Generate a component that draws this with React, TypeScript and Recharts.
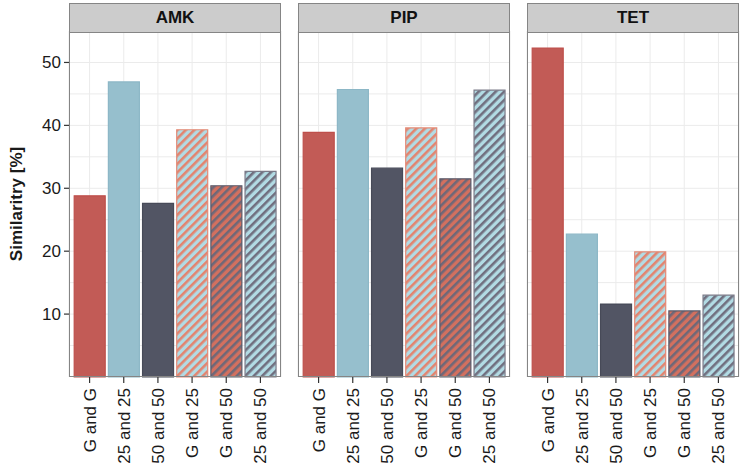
import { BarChart, Bar, XAxis, YAxis, CartesianGrid, Cell } from 'recharts'

// similarity per pair of groups, one facet per antibiotic
const categories = ['G and G', '25 and 25', '50 and 50', 'G and 25', 'G and 50', '25 and 50']
const amkValues = [28.8, 46.9, 27.6, 39.3, 30.4, 32.7]
const pipValues = [38.9, 45.7, 33.2, 39.6, 31.5, 45.6]
const tetValues = [52.3, 22.7, 11.6, 19.9, 10.5, 13.0]
const yTicks = [10, 20, 30, 40, 50]
const gridLines = [5, 10, 15, 20, 25, 30, 35, 40, 45, 50]

const FONT = '"Liberation Sans", Arial, Helvetica, sans-serif'
const PLOT_TOP = 31
const PLOT_H = 346
const PLOT_W = 212

const strokes = ['#BE4F4B', '#8CB7C6', '#474A58', '#E38A76', '#585A69', '#7A7A88']

function XTick({ x, y, payload }: any) {
  return (
    <g transform={`translate(${x},${y})`}>
      <text transform="rotate(-90)" x={-3} y={0} dy="0.35em" textAnchor="end"
        fontSize={17} fill="#1a1a1a" fontFamily={FONT}>
        {payload.value}
      </text>
    </g>
  )
}

function Hatch({ id, bg, fg }: { id: string; bg: string; fg: string }) {
  return (
    <pattern id={id} patternUnits="userSpaceOnUse" width="6" height="6" patternTransform="rotate(45)">
      <rect width="6" height="6" fill={bg} />
      <rect width="2.6" height="6" fill={fg} />
    </pattern>
  )
}

function Panel({ id, title, values, left, width, yWidth }: {
  id: string; title: string; values: number[]; left: number; width: number; yWidth: number
}) {
  const data = categories.map((c, i) => ({ name: c, value: values[i] }))
  const fills = ['#C25B56', '#96BFCD', '#525564', `url(#${id}-a)`, `url(#${id}-b)`, `url(#${id}-c)`]
  const plotLeft = left + (yWidth || 1)
  return (
    <>
      <div style={{ position: 'absolute', left, top: 0 }}>
        <BarChart width={width} height={471} data={data} barCategoryGap="5%"
          margin={{ top: PLOT_TOP, right: 1, bottom: 0, left: yWidth ? 0 : 1 }}>
          <defs>
            <Hatch id={`${id}-a`} bg="#B2DBE4" fg="#E2846F" />
            <Hatch id={`${id}-b`} bg="#D3705F" fg="#6E6878" />
            <Hatch id={`${id}-c`} bg="#B2DBE4" fg="#706F7F" />
          </defs>
          <CartesianGrid stroke="#EBEBEB" strokeWidth={1} horizontalValues={gridLines} />
          <XAxis dataKey="name" height={94} padding={{ left: 3.5, right: 3.5 }} axisLine={false}
            tickLine={{ stroke: '#333', strokeWidth: 1.2 }} tickSize={6} tickMargin={2}
            tick={<XTick />} interval={0} />
          {yWidth ? (
            <YAxis domain={[0, 55]} ticks={yTicks} width={yWidth} axisLine={false}
              tickLine={{ stroke: '#333', strokeWidth: 1.2 }} tickSize={5} tickMargin={3}
              tick={{ fontSize: 17, fill: '#1a1a1a', fontFamily: FONT }}
              label={{
                content: () => (
                  <text x={16} y={204} transform="rotate(-90 16 204)" textAnchor="middle"
                    dominantBaseline="central" fontSize={17} fontWeight="bold"
                    fontFamily={FONT} fill="#1a1a1a">
                    Similaritry [%]
                  </text>
                ),
              }} />
          ) : (
            <YAxis hide domain={[0, 55]} ticks={yTicks} />
          )}
          <Bar dataKey="value" isAnimationActive={false}>
            {data.map((d, i) => (
              <Cell key={d.name} fill={fills[i]} stroke={strokes[i]} strokeWidth={1.2} />
            ))}
          </Bar>
        </BarChart>
      </div>
      <div style={{
        position: 'absolute', left: plotLeft, top: PLOT_TOP, width: PLOT_W, height: PLOT_H,
        boxSizing: 'border-box', border: '1.5px solid #858585', pointerEvents: 'none',
      }} />
      <div style={{
        position: 'absolute', left: plotLeft, top: 3, width: PLOT_W, height: PLOT_TOP - 3 + 1.5,
        boxSizing: 'border-box', border: '1.5px solid #858585', background: '#CCCCCC',
        fontFamily: FONT, fontWeight: 'bold', fontSize: 17, color: '#111',
        display: 'flex', alignItems: 'center', justifyContent: 'center',
      }}>
        {title}
      </div>
    </>
  )
}

export default function App() {
  return (
    <div style={{ position: 'absolute', left: 0, top: 0, width: 743, height: 471, background: '#fff', overflow: 'hidden' }}>
      <Panel id="amk" title="AMK" values={amkValues} left={0} width={282} yWidth={69} />
      <Panel id="pip" title="PIP" values={pipValues} left={297} width={214} yWidth={0} />
      <Panel id="tet" title="TET" values={tetValues} left={526} width={214} yWidth={0} />
    </div>
  )
}
